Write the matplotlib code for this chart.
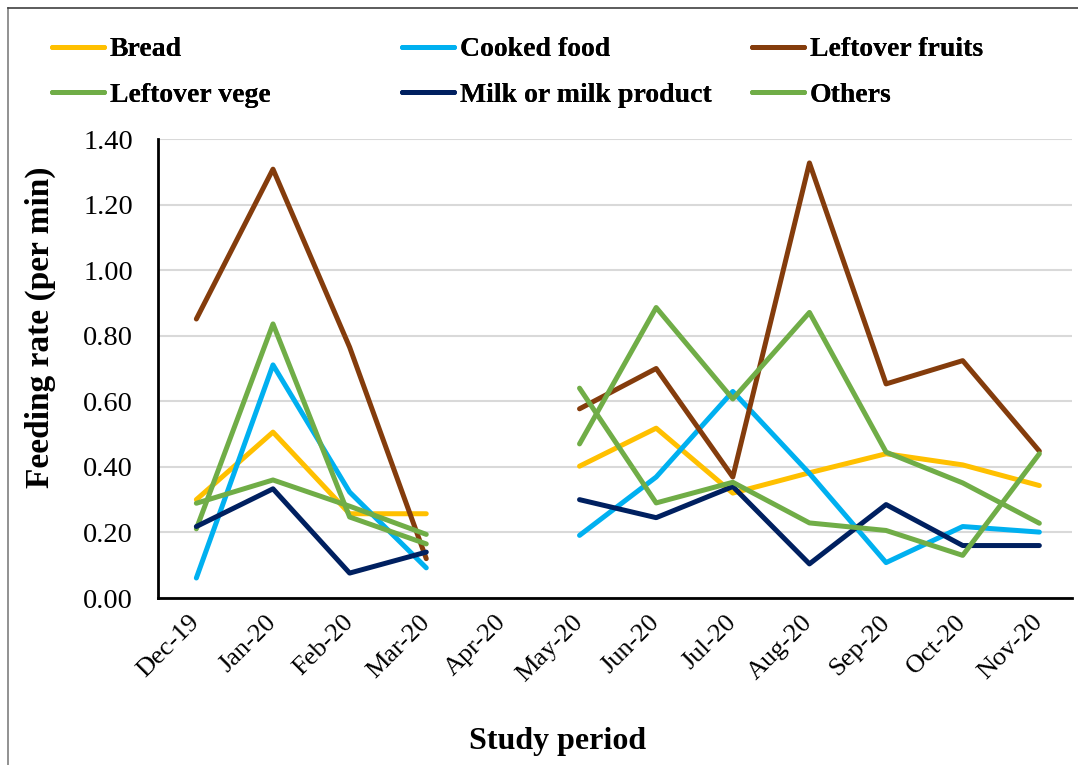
import numpy as np
import matplotlib.pyplot as plt
from matplotlib.lines import Line2D

plt.rcParams['font.family'] = ['Liberation Serif', 'DejaVu Serif']

months = ['Dec-19', 'Jan-20', 'Feb-20', 'Mar-20', 'Apr-20', 'May-20',
          'Jun-20', 'Jul-20', 'Aug-20', 'Sep-20', 'Oct-20', 'Nov-20']
nan = np.nan

bread = [0.30, 0.506, 0.257, 0.257, nan, 0.402, 0.518, 0.32, 0.382, 0.44, 0.406, 0.343]
cooked_food = [0.061, 0.711, 0.323, 0.092, nan, 0.191, 0.369, 0.63, 0.38, 0.108, 0.218, 0.201]
leftover_fruits = [0.851, 1.308, 0.765, 0.12, nan, 0.577, 0.70, 0.369, 1.327, 0.653, 0.724, 0.448]
leftover_vege = [0.211, 0.836, 0.247, 0.165, nan, 0.470, 0.886, 0.607, 0.871, 0.445, 0.351, 0.228]
milk = [0.218, 0.333, 0.076, 0.140, nan, 0.30, 0.245, 0.34, 0.104, 0.285, 0.160, 0.160]
others = [0.289, 0.360, 0.28, 0.194, nan, 0.64, 0.290, 0.353, 0.229, 0.206, 0.130, 0.44]

series = [
    ('Bread', bread, '#FFC000'),
    ('Cooked food', cooked_food, '#00B0F0'),
    ('Leftover fruits', leftover_fruits, '#843C0C'),
    ('Leftover vege', leftover_vege, '#70AD47'),
    ('Milk or milk product', milk, '#002060'),
    ('Others', others, '#70AD47'),
]

fig = plt.figure(figsize=(10.78, 7.65), dpi=100)
ax = fig.add_axes([0.1466, 0.2183, 0.8474, 0.600])

x = np.arange(len(months))
handles = {}
for name, vals, col in series:
    ln, = ax.plot(x, vals, color=col, lw=3.6, solid_capstyle='round',
                  solid_joinstyle='round', label=name)
    handles[name] = ln

ax.set_ylim(0, 1.40)
ax.set_xlim(-0.5, 11.42)
ax.set_yticks(np.arange(0, 1.41, 0.2))
ax.set_yticklabels([f'{v:.2f}' for v in np.arange(0, 1.41, 0.2)], fontsize=20.5)
ax.set_xticks(x)
ax.set_xticklabels(months, fontsize=19, rotation=45, ha='right',
                   va='center', rotation_mode='anchor')
ax.tick_params(axis='both', length=0)
ax.tick_params(axis='x', pad=15)
ax.tick_params(axis='y', pad=18)

ax.grid(axis='y', color='#D9D9D9', lw=1.5)
ax.set_axisbelow(True)
for s in ['top', 'right']:
    ax.spines[s].set_visible(False)
for s in ['left', 'bottom']:
    ax.spines[s].set_linewidth(2)
    ax.spines[s].set_color('black')

ax.set_ylabel('Feeding rate (per min)', fontsize=24, fontweight='bold')
ax.yaxis.set_label_coords(-0.112, 0.59)
ax.set_xlabel('Study period', fontsize=23, fontweight='bold')
ax.xaxis.set_label_coords(0.437, -0.28)

# legend in three columns placed like the original
cols = [['Bread', 'Leftover vege'],
        ['Cooked food', 'Milk or milk product'],
        ['Leftover fruits', 'Others']]
col_x = [52, 402, 752]
for names, px in zip(cols, col_x):
    leg = fig.legend([handles[n] for n in names], names,
                     loc='upper left', bbox_to_anchor=(px / 1078, 1 - 37 / 765),
                     frameon=False, handlelength=1.87, handletextpad=0.22,
                     labelspacing=0.72, borderpad=0, borderaxespad=0,
                     prop={'size': 20, 'weight': 'bold'})
    fig.add_artist(leg)

# outer frame
fig.add_artist(Line2D([8 / 1078, 8 / 1078], [0, 1 - 8 / 765], color='#7F7F7F',
                      lw=1.2, transform=fig.transFigure))
fig.add_artist(Line2D([8 / 1078, 1], [1 - 8 / 765, 1 - 8 / 765], color='#404040',
                      lw=1.2, transform=fig.transFigure))

fig.savefig('out.png', dpi=100)
